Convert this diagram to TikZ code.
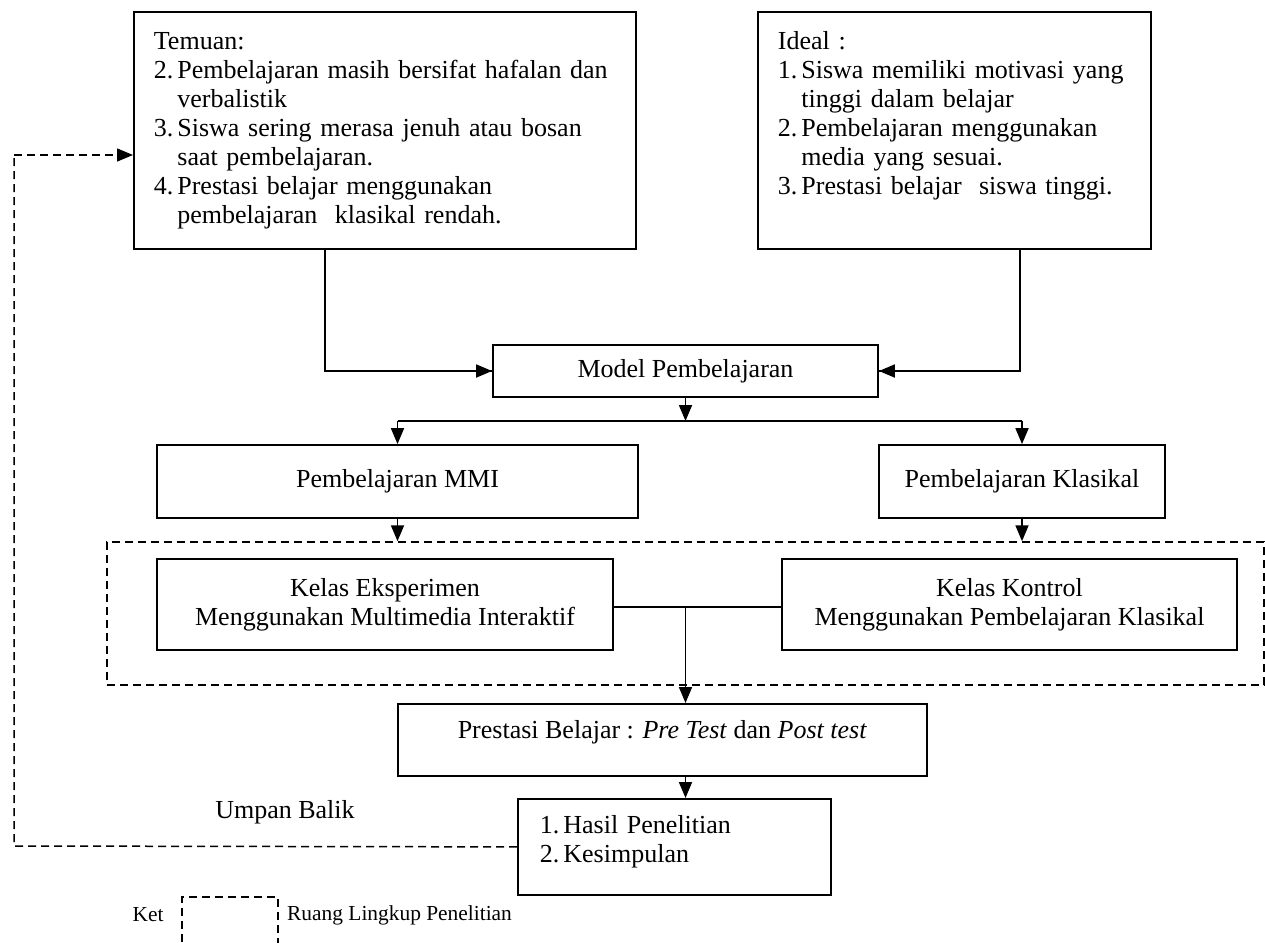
\documentclass[tikz,border=0pt]{standalone}
\usepackage{fontspec}
\setmainfont{Liberation Serif}
\usetikzlibrary{arrows.meta,positioning}

\tikzset{
  box/.style={draw, line width=1.8pt, inner sep=0pt, align=center},
  listbox/.style={box, anchor=north west, align=left, inner xsep=20pt},
  flow/.style={line width=1.8pt, -{Triangle[length=16pt,width=13pt]}},
  link/.style={line width=1.8pt},
  scopeline/.style={line width=1.5pt, dash pattern=on 8pt off 5pt},
  small/.style={font=\fontsize{21.4}{24}\selectfont},
}

\begin{document}
\begin{tikzpicture}[x=1pt,y=-1pt, every node/.style={font=\fontsize{26}{29}\selectfont}]
\useasboundingbox (0,0) rectangle (1265,942);

\node[listbox, text width=462pt, text height=38pt, text depth=199pt] (temuan) at (133,11) {%
\begin{tabular}[t]{@{}l@{\hspace{4pt}}l@{}}
\multicolumn{2}{@{}l@{}}{Temuan:}\\
2. & Pembelajaran masih bersifat hafalan dan\\
   & verbalistik\\
3. & Siswa sering merasa jenuh atau bosan\\
   & saat pembelajaran.\\
4. & Prestasi belajar menggunakan\\
   & pembelajaran\ \ klasikal rendah.
\end{tabular}};
\node[listbox, text width=353pt, text height=38pt, text depth=199pt] (ideal) at (757,11) {%
\begin{tabular}[t]{@{}l@{\hspace{4pt}}l@{}}
\multicolumn{2}{@{}l@{}}{Ideal :}\\
1. & Siswa memiliki motivasi yang\\
   & tinggi dalam belajar\\
2. & Pembelajaran menggunakan\\
   & media yang sesuai.\\
3. & Prestasi belajar\ \ siswa tinggi.
\end{tabular}};

\node[box, minimum width=385pt, minimum height=52pt] (model) at (685.5,371) {Model Pembelajaran};
\node[box, minimum width=481pt, minimum height=73pt] (mmi) at (397.5,481.5) {Pembelajaran MMI};
\node[box, minimum width=286pt, minimum height=73pt] (klasikal) at (1022,481.5) {Pembelajaran Klasikal};

\node[draw, scopeline, minimum width=1157pt, minimum height=143pt] (lingkup) at (685.5,613.5) {};
\node[box, minimum width=456pt, minimum height=91pt] (eksperimen) at (385,604.5) {Kelas Eksperimen\\Menggunakan Multimedia Interaktif};
\node[box, minimum width=455pt, minimum height=91pt] (kontrol) at (1009.5,604.5) {Kelas Kontrol\\Menggunakan Pembelajaran Klasikal};

\node[box, anchor=north west, minimum width=529pt, text height=35pt, text depth=37pt] (prestasi) at (397,703) {Prestasi Belajar : \textit{Pre Test} dan \textit{Post test}};
\node[listbox, inner xsep=22pt, text width=269pt, text height=35pt, text depth=61pt] (hasil) at (517,798) {%
\begin{tabular}[t]{@{}l@{\hspace{4pt}}l@{}}
1. & Hasil Penelitian\\
2. & Kesimpulan
\end{tabular}};

\coordinate (split) at (685.5,421);
\coordinate (join) at (685.5,607);
\coordinate (fbA) at (14,846);
\coordinate (fbB) at (14,155);

\draw[link] (temuan.south -| 325,0) |- (model.west);
\draw[flow] (model.west -| 325,0) -- (model.west);
\draw[link] (ideal.south -| 1020,0) |- (model.east);
\draw[flow] (model.east -| 1020,0) -- (model.east);

\draw[flow] (model.south) -- (split);
\draw[link] (split -| mmi.north) -- (split -| klasikal.north);
\draw[flow] (split -| mmi.north) -- (mmi.north);
\draw[flow] (split -| klasikal.north) -- (klasikal.north);
\draw[flow] (mmi.south) -- (mmi.south |- lingkup.north);
\draw[flow] (klasikal.south) -- (klasikal.south |- lingkup.north);

\draw[link] (eksperimen.east |- join) -- (kontrol.west |- join);
\draw[flow] (join) -- (join |- prestasi.north);
\draw[flow] (join |- prestasi.south) -- (join |- hasil.north);

\draw[scopeline] (hasil.west) -- (fbA) -- (fbB);
\draw[scopeline, -{Triangle[length=16pt,width=13pt]}] (fbB) -- (fbB -| temuan.west);
\node (umpan) at (285,812) {Umpan Balik};

\node[small] (ket) at (148,915) {Ket};
\node[draw, scopeline, anchor=north west, minimum width=96pt, minimum height=70pt] (legenda) at (181,896) {};
\node[small, anchor=west, inner sep=0pt] (ruang) at (287,915) {Ruang Lingkup Penelitian};
\end{tikzpicture}
\end{document}
